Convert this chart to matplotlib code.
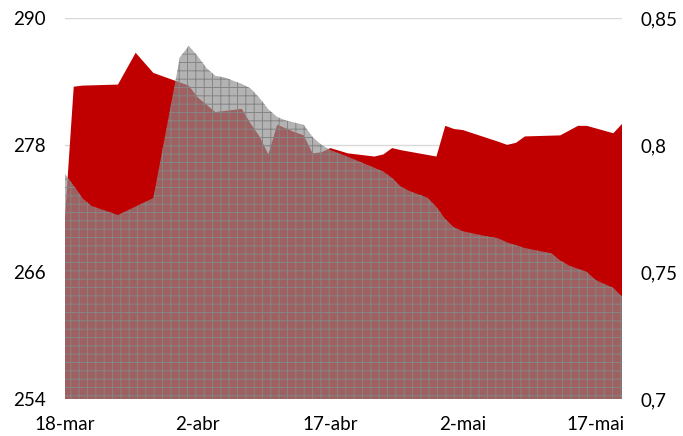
import matplotlib
matplotlib.use('Agg')
import matplotlib.pyplot as plt
import pandas as pd

plt.rcParams['font.family'] = ['Lato', 'DejaVu Sans']
plt.rcParams['hatch.linewidth'] = 0.7

# --- dados ---
datas_verm = ['03-18', '03-19', '03-20', '03-24', '03-26', '03-28', '03-31', '04-01',
              '04-02', '04-03', '04-04', '04-06', '04-07', '04-08', '04-09', '04-10',
              '04-11', '04-13', '04-14', '04-15', '04-16', '04-17', '04-19', '04-22',
              '04-23', '04-24', '04-25', '04-29', '04-30', '05-01', '05-02', '05-06',
              '05-07', '05-08', '05-09', '05-13', '05-15', '05-16', '05-19', '05-20']
valores_verm = [271.0, 283.5, 283.6, 283.7, 286.7, 284.8, 283.9, 283.6,
                282.5, 281.8, 281.1, 281.3, 281.4, 280.0, 278.8, 277.1,
                279.9, 279.2, 278.9, 277.2, 277.3, 277.7, 277.2, 276.9,
                277.1, 277.7, 277.5, 276.9, 279.8, 279.5, 279.4, 278.3,
                278.0, 278.2, 278.8, 278.9, 279.8, 279.8, 279.1, 280.0]

datas_cinza = ['03-18', '03-19', '03-20', '03-21', '03-24', '03-28', '03-31', '04-01',
               '04-02', '04-03', '04-04', '04-05', '04-07', '04-08', '04-09', '04-10',
               '04-11', '04-12', '04-14', '04-15', '04-16', '04-17', '04-19', '04-22',
               '04-23', '04-24', '04-25', '04-26', '04-28', '04-29', '04-30', '05-01',
               '05-02', '05-04', '05-06', '05-07', '05-09', '05-12', '05-13', '05-14',
               '05-16', '05-17', '05-19', '05-20']
valores_cinza = [0.7886, 0.7840, 0.7790, 0.7760, 0.7724, 0.7791, 0.8345, 0.8390,
                 0.8350, 0.8303, 0.8272, 0.8266, 0.8240, 0.8222, 0.8185, 0.8140,
                 0.8110, 0.8096, 0.8079, 0.8031, 0.8000, 0.7980, 0.7953, 0.7910,
                 0.7895, 0.7870, 0.7835, 0.7818, 0.7792, 0.7756, 0.7708, 0.7675,
                 0.7660, 0.7645, 0.7632, 0.7616, 0.7594, 0.7573, 0.7545, 0.7525,
                 0.7500, 0.7468, 0.7437, 0.7402]

ticks_x = ['03-18', '04-02', '04-17', '05-02', '05-17']
rotulos_x = ['18-mar', '2-abr', '17-abr', '2-mai', '17-mai']
ticks_esq = [254, 266, 278, 290]
ticks_dir = [0.7, 0.75, 0.8, 0.85]
rotulos_dir = ['0,7', '0,75', '0,8', '0,85']

def para_data(lista):
    return pd.to_datetime(['2020-' + d for d in lista])

x_verm = para_data(datas_verm)
x_cinza = para_data(datas_cinza)

fig, ax = plt.subplots(figsize=(6.83, 4.36), dpi=100)
plt.subplots_adjust(left=0.095, right=0.911, top=0.959, bottom=0.085)

ax.fill_between(x_verm, 254, valores_verm, facecolor='#c00000', linewidth=0, zorder=2)
ax.set_ylim(254, 290)
ax.set_yticks(ticks_esq)
ax.grid(axis='y', color='#d9d9d9', linewidth=1, zorder=0)
ax.set_axisbelow(True)

ax2 = ax.twinx()
ax2.fill_between(x_cinza, 0.7, valores_cinza, facecolor=(0.56, 0.56, 0.56, 0.68),
                 edgecolor='#858585', hatch='++', linewidth=0)
ax2.set_ylim(0.7, 0.85)
ax2.set_yticks(ticks_dir)
ax2.set_yticklabels(rotulos_dir)

ax.set_xlim(x_verm[0], x_verm[-1])
ax.set_xticks(para_data(ticks_x))
ax.set_xticklabels(rotulos_x)

for a in (ax, ax2):
    for s in a.spines.values():
        s.set_visible(False)
    a.tick_params(length=0, labelsize=13.5, colors='black')
ax.tick_params(axis='y', pad=14)
ax.tick_params(axis='x', pad=12)
ax2.tick_params(axis='y', pad=13)

fig.savefig('out.png', dpi=100)
